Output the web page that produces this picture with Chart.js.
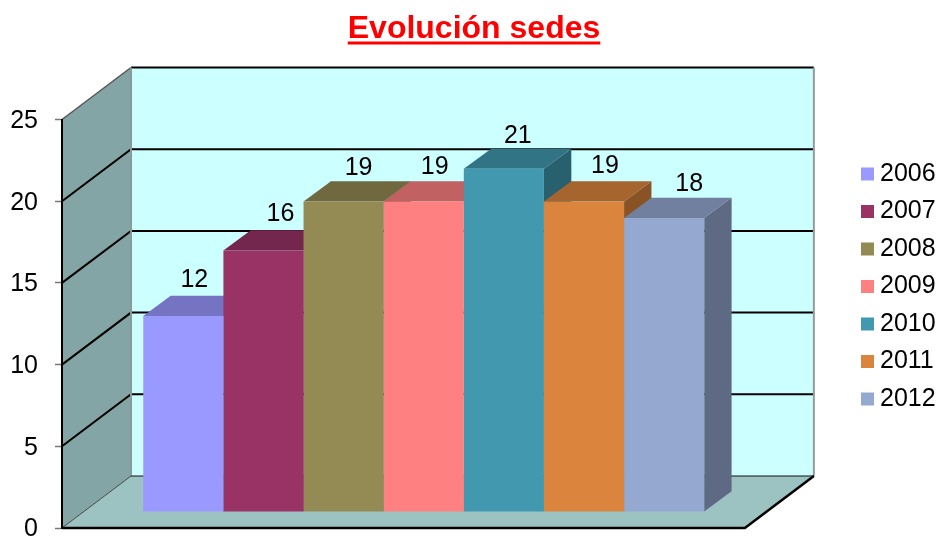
<!DOCTYPE html>
<html>
<head>
<meta charset="utf-8">
<style>html,body{margin:0;padding:0;background:#fff}canvas{display:block}</style>
<script src="https://cdn.jsdelivr.net/npm/chart.js@4"></script>
</head>
<body>
<canvas id="c" width="939" height="540"></canvas>
<script>
const chartTitle = 'Evolución sedes';
const years = ['2006','2007','2008','2009','2010','2011','2012'];
const values = [12,16,19,19,21,19,18];
const colors = ['#9999FF','#993366','#948A54','#FF8080','#4198AF','#DB843D','#95A9D0'];
const labelShiftX = [11,17,15,11,14,21,25];
const labelShiftY = [36,36,33,34,33,35,34];

const FONT = '"Liberation Sans", Arial, sans-serif';
const PLOT = {top:119.5, bottom:528};
const WALL = {dx:69, dy:52};
const BAR_PLANE = {dx:20.3, dy:16};
const BAR_DEPTH = {dx:27.4, dy:20.2};

function shade(hex,f){
  const n=parseInt(hex.slice(1),16);
  return 'rgb('+[(n>>16)&255,(n>>8)&255,n&255].map(v=>Math.round(v*f)).join(',')+')';
}
function poly(ctx,pts,fill){
  ctx.beginPath();
  pts.forEach((p,i)=>i?ctx.lineTo(p[0],p[1]):ctx.moveTo(p[0],p[1]));
  ctx.closePath();
  ctx.fillStyle=fill;ctx.fill();
}
function seg(ctx,pts,color,w){
  ctx.beginPath();
  pts.forEach((p,i)=>i?ctx.lineTo(p[0],p[1]):ctx.moveTo(p[0],p[1]));
  ctx.strokeStyle=color;ctx.lineWidth=w;ctx.stroke();
}
const scene3d = {
  id:'scene3d',
  afterLayout(chart){
    const t=chart.titleBlock; t.left=9; t.right=939;
    const l=chart.legend;
    l.left=855; l.right=939; l.top=86.5; l.bottom=486.5;
    const y=chart.scales.y, a=chart.chartArea;
    y.top=a.top=PLOT.top; y.bottom=a.bottom=PLOT.bottom;
    y.height=a.height=PLOT.bottom-PLOT.top;
    y.configure();
  },
  beforeDraw(chart){
    const {ctx,chartArea:a,scales:{y}}=chart;
    const {dx,dy}=WALL, L=a.left,R=a.right,B=a.bottom,T=y.getPixelForValue(25);
    ctx.save();
    poly(ctx,[[L+dx,T-dy],[R+dx,T-dy],[R+dx,B-dy],[L+dx,B-dy]],'#CCFFFF');
    poly(ctx,[[L,T],[L+dx,T-dy],[L+dx,B-dy],[L,B]],'#84A5A5');
    poly(ctx,[[L,B],[L+dx,B-dy],[R+dx,B-dy],[R,B]],'#9CC2C2');
    y.ticks.forEach(t=>{
      const p=y.getPixelForValue(t.value);
      if(t.value>0&&t.value<25) seg(ctx,[[L,p],[L+dx,p-dy],[R+dx,p-dy]],'#000',2);
    });
    seg(ctx,[[L+dx,T-dy],[R+dx,T-dy]],'#000',2);
    seg(ctx,[[L,T],[L+dx,T-dy]],'#555',1.5);
    seg(ctx,[[L+dx,T-dy],[L+dx,B-dy]],'#8A9A9A',2);
    seg(ctx,[[R+dx,T-dy],[R+dx,B-dy]],'#999',2);
    seg(ctx,[[L,B],[L+dx,B-dy]],'#444',1);
    seg(ctx,[[L+dx,B-dy],[R+dx,B-dy]],'#111',1);
    seg(ctx,[[L,B],[R,B],[R+dx,B-dy]],'#000',2.5);
    ctx.restore();
  },
  beforeDatasetsDraw(chart){
    const ctx=chart.ctx;
    ctx.save();
    years.forEach((_,i)=>{
      const b=chart.getDatasetMeta(i).data[0];
      const x0=b.x-b.width/2+BAR_PLANE.dx, x1=b.x+b.width/2+BAR_PLANE.dx;
      const top=b.y-BAR_PLANE.dy, bot=b.base-BAR_PLANE.dy;
      const {dx,dy}=BAR_DEPTH;
      poly(ctx,[[x1,top],[x1+dx,top-dy],[x1+dx,bot-dy],[x1,bot]],shade(colors[i],0.63));
      poly(ctx,[[x0,top],[x0+dx,top-dy],[x1+dx,top-dy],[x1,top]],shade(colors[i],0.76));
    });
    ctx.restore();
  },
  beforeDatasetDraw(chart){
    chart.ctx.save();
    chart.ctx.translate(BAR_PLANE.dx,-BAR_PLANE.dy);
  },
  afterDatasetDraw(chart){ chart.ctx.restore(); },
  afterDatasetsDraw(chart){
    const ctx=chart.ctx;
    ctx.save();
    ctx.font='25px '+FONT;ctx.fillStyle='#000';ctx.textAlign='center';ctx.textBaseline='middle';
    values.forEach((v,i)=>{
      const b=chart.getDatasetMeta(i).data[0];
      ctx.fillText(String(v),b.x+BAR_PLANE.dx+labelShiftX[i],b.y-BAR_PLANE.dy-labelShiftY[i]);
    });
    ctx.restore();
  },
  afterDraw(chart){
    const ctx=chart.ctx;
    ctx.save();
    ctx.font='bold 32px '+FONT;
    const w=ctx.measureText(chartTitle).width, cx=(chart.titleBlock.left+chart.titleBlock.right)/2;
    ctx.fillStyle='#FF0000';
    ctx.fillRect(cx-w/2,41.5,w,3);
    ctx.restore();
  }
};
new Chart(document.getElementById('c'),{
  type:'bar',
  data:{
    labels:[''],
    datasets:years.map((y,i)=>({label:y,data:[values[i]],backgroundColor:colors[i],borderWidth:0,clip:false,
      categoryPercentage:0.8214,barPercentage:1}))
  },
  plugins:[scene3d],
  options:{
    responsive:false,animation:false,
    layout:{autoPadding:false,padding:{left:9,right:103.5,top:0,bottom:0}},
    plugins:{
      tooltip:{enabled:false},
      title:{display:true,text:chartTitle,color:'#FF0000',font:{family:FONT,size:32,weight:'bold',lineHeight:1.2},padding:{top:10,bottom:71}},
      legend:{display:true,position:'right',reverse:false,labels:{
        font:{family:FONT,size:25},color:'#000',usePointStyle:true,pointStyle:'rect',boxWidth:0.01,boxHeight:13,padding:12.5
      }}
    },
    scales:{
      x:{display:false,afterFit(s){s.height=0;}},
      y:{min:0,max:25,
        afterFit(s){s.width=53;},
        ticks:{stepSize:5,padding:17,labelOffset:1.5,color:'#000',font:{family:FONT,size:25}},
        border:{color:'#000',width:2},
        grid:{drawOnChartArea:false,drawTicks:true,tickLength:7,tickColor:'#777',tickWidth:1.5}
      }
    }
  }
});
</script>
</body>
</html>
